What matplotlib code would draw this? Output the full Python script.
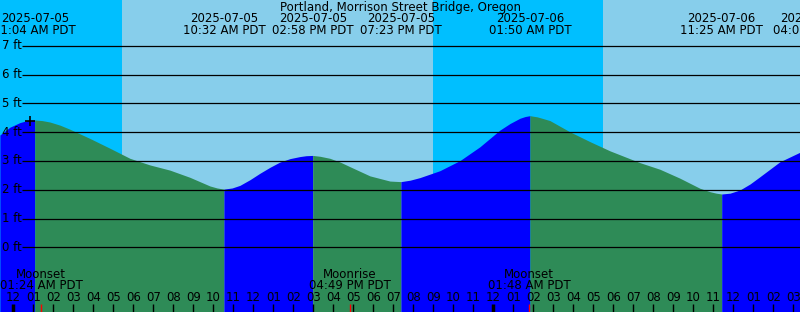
import numpy as np
import matplotlib
matplotlib.use('Agg')
import matplotlib.pyplot as plt

title = 'Portland, Morrison Street Bridge, Oregon'

# tide height (ft) vs hours after midnight 2025-07-05 PDT
hours = [-0.67, -0.17, 0.33, 0.69, 1.07, 1.44, 1.83, 2.34, 2.83, 3.83, 4.83,
         5.83, 6.83, 7.83, 8.83, 9.83, 10.19, 10.53, 10.94, 11.33, 11.84,
         12.33, 12.84, 13.33, 13.84, 14.33, 14.64, 14.97, 15.34, 15.83, 16.34,
         16.83, 17.83, 18.83, 19.09, 19.38, 19.84, 20.33, 21.33, 22.33, 23.33,
         24.33, 24.84, 25.33, 25.59, 25.83, 26.19, 26.49, 26.83, 27.83, 28.83,
         29.83, 31.33, 32.33, 33.33, 34.33, 34.84, 35.14, 35.42, 35.84, 36.33,
         36.84, 37.33, 38.33, 39.33]
heights = [3.90, 4.17, 4.33, 4.40, 4.42, 4.40, 4.35, 4.24, 4.10, 3.78, 3.44,
           3.09, 2.86, 2.68, 2.43, 2.13, 2.06, 2.02, 2.06, 2.15, 2.35,
           2.57, 2.78, 2.96, 3.08, 3.15, 3.18, 3.19, 3.16, 3.09, 2.96,
           2.80, 2.48, 2.30, 2.29, 2.28, 2.33, 2.42, 2.66, 3.01, 3.49,
           4.07, 4.30, 4.48, 4.54, 4.57, 4.53, 4.47, 4.40, 4.01, 3.67,
           3.35, 2.94, 2.71, 2.40, 2.05, 1.93, 1.88, 1.85, 1.88, 1.99,
           2.20, 2.45, 2.97, 3.30]

event_hours = [1.07, 10.53, 14.97, 19.38, 25.83, 35.42, 40.03]
event_dates = ['2025-07-05', '2025-07-05', '2025-07-05', '2025-07-05',
               '2025-07-06', '2025-07-06', '2025-07-06']
event_times = ['01:04 AM PDT', '10:32 AM PDT', '02:58 PM PDT', '07:23 PM PDT',
               '01:50 AM PDT', '11:25 AM PDT', '04:02 PM PDT']

moon_hours = [1.40, 16.82, 25.80]
moon_names = ['Moonset', 'Moonrise', 'Moonset']
moon_times = ['01:24 AM PDT', '04:49 PM PDT', '01:48 AM PDT']

# sunrise, sunset, sunrise
sun_hours = [5.43, 20.98, 29.48]
now_hour, now_height = 0.84, 4.40
levels = [0, 1, 2, 3, 4, 5, 6, 7]

day_color = '#87ceeb'
night_color = '#00bfff'
flood_color = '#0000ff'
ebb_color = '#2e8b57'
fs = 8.5


def px_x(x):
    return (x - 13.3) / 20.0


def px_y(y):
    return (247.3 - y) / 28.8


fig = plt.figure(figsize=(8, 3.12), dpi=100)
ax = fig.add_axes([0, 0, 1, 1])
x0, x1 = px_x(0), px_x(800)
y0, y1 = px_y(312), px_y(0)
ax.set_xlim(x0, x1)
ax.set_ylim(y0, y1)
ax.axis('off')

# day / night background
edges = [x0] + sun_hours + [x1]
for i in range(len(edges) - 1):
    c = night_color if i % 2 == 0 else day_color
    ax.axvspan(edges[i], edges[i + 1], color=c, lw=0, zorder=0)

# tide fill, blue while rising, green while falling
t = np.array(hours)
h = np.array(heights)
start = 0
for i in range(1, len(t)):
    rising = h[i] > h[i - 1]
    last = i == len(t) - 1
    if not last:
        nxt = h[i + 1] > h[i]
    if last or nxt != rising:
        ax.fill_between(t[start:i + 1], y0, h[start:i + 1],
                        color=flood_color if rising else ebb_color,
                        lw=0, zorder=1)
        start = i

# height lines
ax.hlines(levels, px_x(22), x1, color='black', lw=0.9, zorder=3)
for lv in levels:
    ax.text(px_x(2), lv, '%d ft' % lv, fontsize=fs, ha='left', va='center', zorder=4)

ax.plot(now_hour, now_height, marker='+', color='black', ms=7, mew=1.2, zorder=5)

# title and tide events
ax.text(px_x(400), px_y(7.5), title, fontsize=fs, ha='center', va='center')
for eh, d, tm in zip(event_hours, event_dates, event_times):
    ax.text(eh, px_y(19), d, fontsize=fs, ha='center', va='center')
    ax.text(eh, px_y(31), tm, fontsize=fs, ha='center', va='center')

# moon events
for mh, name, tm in zip(moon_hours, moon_names, moon_times):
    ax.text(mh, px_y(274), name, fontsize=fs, ha='center', va='center')
    ax.text(mh, px_y(285.5), tm, fontsize=fs, ha='center', va='center')
    ax.vlines(mh, y0, px_y(304), color='red', lw=1, zorder=4)

# hour ticks
for hr in range(0, 40):
    lab = '%02d' % (hr % 12 or 12)
    ax.text(hr, px_y(297.5), lab, fontsize=fs, ha='center', va='center')
    ax.vlines(hr, y0, px_y(304), color='black', lw=2.5 if hr % 24 == 0 else 1, zorder=4)

fig.savefig('out.png', dpi=100)
